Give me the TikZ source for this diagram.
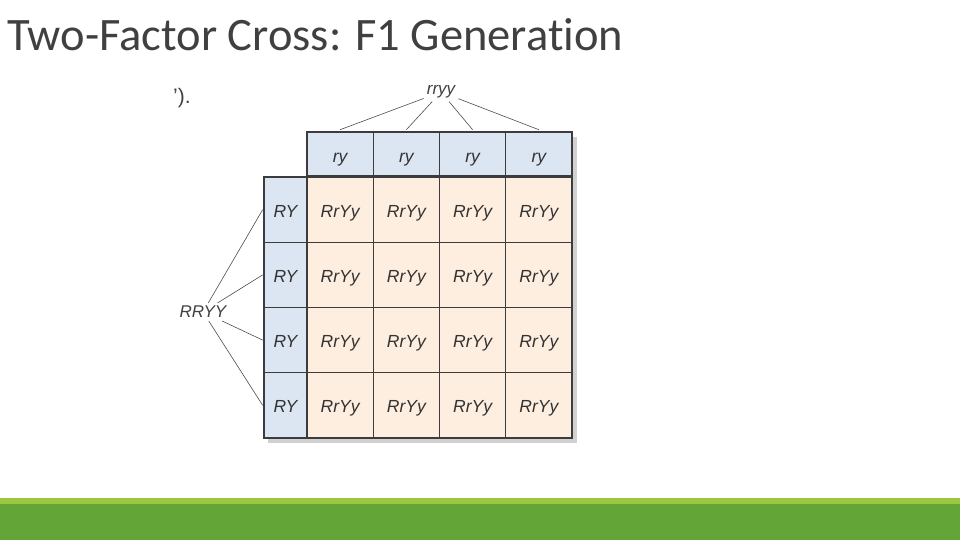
\documentclass[tikz,border=0pt]{standalone}
\usepackage{fontspec}
\setmainfont[Ligatures=NoCommon]{Carlito}
\newfontfamily\cellfont{Liberation Sans}
\definecolor{hdrblue}{RGB}{220, 230, 243}
\definecolor{peach1}{RGB}{253, 238, 224}
\definecolor{gridgray}{RGB}{60, 60, 60}
\definecolor{green1}{RGB}{155, 200, 63}
\definecolor{green2}{RGB}{99, 165, 55}
\usepackage{tikz}
\usetikzlibrary{positioning, calc}

\tikzset{
  cell/.style={draw=gridgray, line width=0.6pt, minimum width=66.25pt, minimum height=65.25pt,
    inner sep=0pt, text height=15pt, text depth=0pt,
    font=\cellfont\itshape\fontsize{17.5}{17.5}\selectfont, text=black!80},
  hdrcell/.style={cell, fill=hdrblue},
  gamete/.style={font=\cellfont\itshape\fontsize{17}{17}\selectfont, text=black!75, inner sep=3pt},
  link/.style={draw=black!70, line width=0.6pt}
}

\begin{document}
\begin{tikzpicture}[x=1pt, y=-1pt]
  \useasboundingbox (0,0) rectangle (960,540);

  % title
  \node[anchor=base west, font=\fontsize{46.5}{46.5}\selectfont, text=black!75, inner sep=0pt] (title) at (7,51) {Two-Factor Cross: F1 Generation};
  \node[anchor=base west, font=\cellfont\fontsize{21}{21}\selectfont, text=black!75, inner sep=0pt] (frag) at (173,104) {’).};

  % shadow
  \fill[black!18] (311,137) rectangle (577,443);
  \fill[black!18] (268,182) rectangle (311,443);

  % top header row
  \foreach \i in {1,...,4} {
    \node[hdrcell, minimum height=44pt, text height=18pt] (h\i) at ({307+66.25*(\i-0.5)},154) {ry};
  }
  % left column
  \foreach \j in {1,...,4} {
    \node[hdrcell, minimum width=43pt] (r\j) at (285.5,{177+65.25*(\j-0.5)}) {RY};
  }
  % body
  \foreach \i in {1,...,4} {
    \foreach \j in {1,...,4} {
      \node[cell, fill=peach1] (c\i\j) at ({307+66.25*(\i-0.5)},{177+65.25*(\j-0.5)}) {RrYy};
    }
  }

  % heavy outlines
  \draw[gridgray, line width=2.2pt] (h1.north west) rectangle (h4.south east);
  \draw[gridgray, line width=2.2pt] (r1.north west) rectangle (r4.south east);
  \draw[gridgray, line width=2.2pt] (c11.north west) rectangle (c44.south east);

  % parents
  \node[gamete] (rryy) at (441,92) {rryy};
  \node[gamete] (RRYY) at (203,312) {RRYY};

  \foreach \i in {1,...,4} {
    \draw[link] (rryy) -- ($(h\i.north)+(0,-2)$);
  }
  \foreach \j in {1,...,4} {
    \draw[link] (RRYY) -- ($(r\j.west)+(-1,0)$);
  }

  % bottom band
  \fill[green1] (0,497.5) rectangle (960,504);
  \fill[green2] (0,504) rectangle (960,540);
\end{tikzpicture}
\end{document}
